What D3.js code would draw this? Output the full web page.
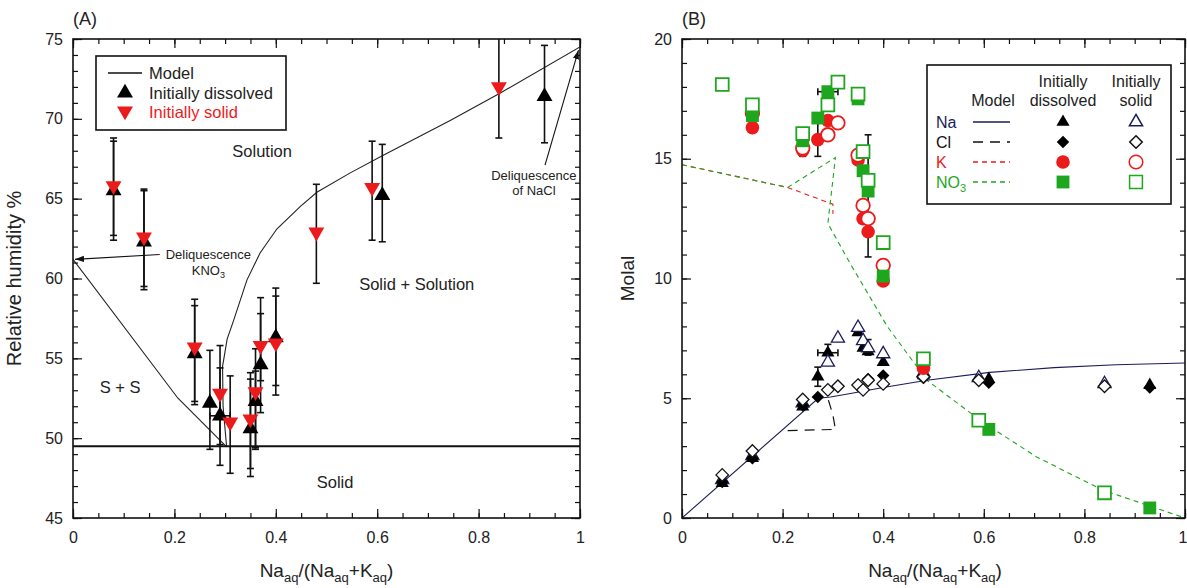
<html>
<head>
<script src="https://d3js.org/d3.v7.min.js"></script>
<style>
  body { margin: 0; background: #fff; }
  svg { font-family: "Liberation Sans", Arial, sans-serif; }
  .tick line { stroke: #111; stroke-width: 1.2; }
  .tick text { font-size: 16px; fill: #222; }
</style>
</head>
<body>
<svg id="chart" width="1187" height="588"></svg>
<script>
// ---- panel A: deliquescence RH vs Na fraction ----
const rhModelLeft = [[0, 61.2], [0.207, 52.5], [0.303, 49.45]];
const rhModelRight = [[0.303, 49.45], [0.296, 52], [0.295, 54.5], [0.304, 56.2], [0.316, 57.3],
  [0.343, 59.9], [0.369, 61.6], [0.402, 63.1], [0.448, 64.5], [0.481, 65.4], [0.546, 66.6],
  [0.611, 67.7], [0.744, 69.9], [0.842, 71.6], [1, 74.5]];
const rhSolidLimit = 49.5;

const rhDissolved = [
  { x: 0.08, y: 65.5, lo: 62.4, hi: 68.8 },
  { x: 0.14, y: 62.3, lo: 59.3, hi: 65.6 },
  { x: 0.24, y: 55.3, lo: 52.3, hi: 58.7 },
  { x: 0.27, y: 52.2, lo: 49.3, hi: 55.5 },
  { x: 0.29, y: 51.4, lo: 48.3, hi: 54.4, xlo: 0.27, xhi: 0.31 },
  { x: 0.35, y: 50.6, lo: 47.6, hi: 53.7 },
  { x: 0.36, y: 52.3, lo: 49.3, hi: 54.2 },
  { x: 0.37, y: 54.6, lo: 51.6, hi: 57.8 },
  { x: 0.40, y: 56.3, lo: 53.3, hi: 59.4 },
  { x: 0.61, y: 65.2, lo: 62.3, hi: 68.4 },
  { x: 0.93, y: 71.4, lo: 68.5, hi: 74.6 }
];
const rhSolid = [
  { x: 0.08, y: 65.8, lo: 62.7, hi: 68.6 },
  { x: 0.14, y: 62.6, lo: 59.5, hi: 65.5 },
  { x: 0.24, y: 55.7, lo: 52.1, hi: 58.3 },
  { x: 0.29, y: 52.8, lo: 49.6, hi: 55.8 },
  { x: 0.31, y: 51.0, lo: 47.8, hi: 53.9 },
  { x: 0.35, y: 51.2, lo: 48.1, hi: 54.1 },
  { x: 0.36, y: 52.9, lo: 49.4, hi: 55.6 },
  { x: 0.37, y: 55.8, lo: 53.6, hi: 58.8 },
  { x: 0.40, y: 55.95, lo: 52.7, hi: 58.9 },
  { x: 0.48, y: 62.9, lo: 59.7, hi: 65.9 },
  { x: 0.59, y: 65.7, lo: 62.4, hi: 68.6 },
  { x: 0.84, y: 72.0, lo: 68.8, hi: 76 }
];

// ---- panel B: molality vs Na fraction ----
const naModel = [[0, 0], [0.271, 5.0], [0.295, 5.05], [0.335, 5.2], [0.40, 5.45], [0.487, 5.75],
  [0.612, 6.08], [0.74, 6.28], [0.863, 6.4], [1, 6.47]];
const clModel = [[0.21, 3.65], [0.305, 3.7], [0.30, 4.3], [0.29, 5.0]];
const kModel = [[0, 14.75], [0.21, 13.8], [0.30, 13.1], [0.30, 12.7]];
const no3Model = [[0, 14.75], [0.21, 13.8], [0.305, 15.05], [0.29, 12.3], [0.335, 10.6],
  [0.408, 8.0], [0.487, 5.75], [0.598, 4.0], [0.705, 2.55], [0.836, 1.17], [0.93, 0.5], [1, 0]];

const naDissolved = [
  { x: 0.08, y: 1.45 }, { x: 0.14, y: 2.5 }, { x: 0.24, y: 4.65 },
  { x: 0.27, y: 5.9, lo: 5.5, hi: 6.3 },
  { x: 0.29, y: 6.9, lo: 6.55, hi: 7.25, xlo: 0.27, xhi: 0.31 },
  { x: 0.35, y: 7.75 }, { x: 0.36, y: 7.1 }, { x: 0.37, y: 6.95, lo: 6.8, hi: 7.45 },
  { x: 0.40, y: 6.5 }, { x: 0.48, y: 5.95 }, { x: 0.61, y: 5.8 }, { x: 0.93, y: 5.55 }
];
const naSolid = [
  { x: 0.08, y: 1.6 }, { x: 0.14, y: 2.6 }, { x: 0.24, y: 4.8 }, { x: 0.29, y: 6.5 },
  { x: 0.31, y: 7.5 }, { x: 0.35, y: 7.95 }, { x: 0.36, y: 7.4 }, { x: 0.37, y: 7.1 },
  { x: 0.40, y: 6.85 }, { x: 0.48, y: 6.05 }, { x: 0.59, y: 5.85 }, { x: 0.84, y: 5.6 }
];
const clDissolved = [
  { x: 0.08, y: 1.5 }, { x: 0.14, y: 2.5 }, { x: 0.24, y: 4.7 }, { x: 0.27, y: 5.05 },
  { x: 0.37, y: 5.8 }, { x: 0.40, y: 5.95 }, { x: 0.48, y: 5.85 }, { x: 0.61, y: 5.65 },
  { x: 0.93, y: 5.45 }
];
const clSolid = [
  { x: 0.08, y: 1.8 }, { x: 0.14, y: 2.8 }, { x: 0.24, y: 4.95 }, { x: 0.29, y: 5.35 },
  { x: 0.31, y: 5.5 }, { x: 0.35, y: 5.55 }, { x: 0.36, y: 5.35 }, { x: 0.37, y: 5.75 },
  { x: 0.40, y: 5.6 }, { x: 0.48, y: 5.9 }, { x: 0.59, y: 5.75 }, { x: 0.84, y: 5.5 }
];
const kDissolved = [
  { x: 0.14, y: 16.3 }, { x: 0.24, y: 15.35, lo: 15.1, hi: 15.5 },
  { x: 0.27, y: 15.8, lo: 15.1, hi: 16.9 }, { x: 0.29, y: 16.6 }, { x: 0.35, y: 14.95 },
  { x: 0.36, y: 12.5 }, { x: 0.37, y: 11.95, lo: 10.9, hi: 16.0 }, { x: 0.40, y: 9.9 },
  { x: 0.48, y: 6.25 }
];
const kSolid = [
  { x: 0.14, y: 16.9 }, { x: 0.24, y: 15.45 }, { x: 0.29, y: 16.0 }, { x: 0.31, y: 16.5 },
  { x: 0.35, y: 15.15 }, { x: 0.36, y: 13.05 }, { x: 0.37, y: 12.5 }, { x: 0.40, y: 10.55 }
];
const no3Dissolved = [
  { x: 0.14, y: 16.8 }, { x: 0.24, y: 15.75 }, { x: 0.27, y: 16.7 },
  { x: 0.29, y: 17.8, xlo: 0.27, xhi: 0.31 }, { x: 0.35, y: 17.5 }, { x: 0.36, y: 14.5 },
  { x: 0.37, y: 13.65 }, { x: 0.40, y: 10.1 }, { x: 0.61, y: 3.7 }, { x: 0.93, y: 0.42 }
];
const no3Solid = [
  { x: 0.08, y: 18.1 }, { x: 0.14, y: 17.25 }, { x: 0.24, y: 16.05 }, { x: 0.29, y: 17.25 },
  { x: 0.31, y: 18.2 }, { x: 0.35, y: 17.7 }, { x: 0.36, y: 15.3 }, { x: 0.37, y: 14.1 },
  { x: 0.40, y: 11.5 }, { x: 0.48, y: 6.65 }, { x: 0.59, y: 4.08 }, { x: 0.84, y: 1.05 }
];

const xMajor = [0, 0.2, 0.4, 0.6, 0.8, 1];
const xMinor = d3.range(0, 1.001, 0.05);

const NAVY = "#1c1c5a", RED = "#ec1b1b", GREEN = "#1fa61f";

const svg = d3.select("#chart");
const defs = svg.append("defs");
defs.append("marker").attr("id", "arrow")
  .attr("viewBox", "0 0 10 10").attr("refX", 10).attr("refY", 5)
  .attr("markerWidth", 9).attr("markerHeight", 9).attr("orient", "auto-start-reverse")
  .attr("markerUnits", "userSpaceOnUse")
  .append("path").attr("d", "M0,1.5 L10,5 L0,8.5 Z").attr("fill", "#111");

function drawFrame(g, x, y, w, h, yMajor, yMinor) {
  const fmt = d3.format("~g");
  g.append("g").attr("transform", `translate(0,${h})`)
    .call(d3.axisBottom(x).tickValues(xMinor).tickSize(-5).tickFormat(""));
  g.append("g").attr("class", "xlab").attr("transform", `translate(0,${h})`)
    .call(d3.axisBottom(x).tickValues(xMajor).tickSize(-9).tickPadding(14).tickFormat(fmt));
  g.append("g").call(d3.axisTop(x).tickValues(xMinor).tickSize(-5).tickFormat(""));
  g.append("g").call(d3.axisTop(x).tickValues(xMajor).tickSize(-9).tickFormat(""));
  g.append("g").call(d3.axisLeft(y).tickValues(yMinor).tickSize(-5).tickFormat(""));
  g.append("g").call(d3.axisLeft(y).tickValues(yMajor).tickSize(-9).tickPadding(10).tickFormat(fmt));
  g.append("g").attr("transform", `translate(${w},0)`)
    .call(d3.axisRight(y).tickValues(yMinor).tickSize(-5).tickFormat(""));
  g.append("g").attr("transform", `translate(${w},0)`)
    .call(d3.axisRight(y).tickValues(yMajor).tickSize(-9).tickFormat(""));
  g.selectAll(".domain").remove();
  g.append("rect").attr("width", w).attr("height", h)
    .attr("fill", "none").attr("stroke", "#111").attr("stroke-width", 1.6);
}

function xTitle(g, cx, cy) {
  const t = g.append("text").attr("x", cx).attr("y", cy).attr("text-anchor", "middle")
    .attr("font-size", 19).attr("fill", "#222");
  t.append("tspan").text("Na");
  t.append("tspan").attr("font-size", 13).attr("dy", 5).text("aq");
  t.append("tspan").attr("dy", -5).text("/(Na");
  t.append("tspan").attr("font-size", 13).attr("dy", 5).text("aq");
  t.append("tspan").attr("dy", -5).text("+K");
  t.append("tspan").attr("font-size", 13).attr("dy", 5).text("aq");
  t.append("tspan").attr("dy", -5).text(")");
}

function errorBars(g, data, x, y) {
  const eb = g.append("g").attr("stroke", "#111").attr("stroke-width", 1.6);
  data.filter(d => d.lo !== undefined).forEach(d => {
    eb.append("line").attr("x1", x(d.x)).attr("x2", x(d.x)).attr("y1", y(d.lo)).attr("y2", y(d.hi));
    [d.lo, d.hi].forEach(v => eb.append("line")
      .attr("x1", x(d.x) - 3.5).attr("x2", x(d.x) + 3.5).attr("y1", y(v)).attr("y2", y(v)));
  });
  data.filter(d => d.xlo !== undefined).forEach(d => {
    eb.append("line").attr("x1", x(d.xlo)).attr("x2", x(d.xhi)).attr("y1", y(d.y)).attr("y2", y(d.y));
    [d.xlo, d.xhi].forEach(v => eb.append("line")
      .attr("x1", x(v)).attr("x2", x(v)).attr("y1", y(d.y) - 3.5).attr("y2", y(d.y) + 3.5));
  });
}

// ================= Panel A =================
const A = { left: 73, top: 39, w: 507, h: 479 };
const gA = svg.append("g").attr("transform", `translate(${A.left},${A.top})`);
const xA = d3.scaleLinear().domain([0, 1]).range([0, A.w]);
const yA = d3.scaleLinear().domain([45, 75]).range([A.h, 0]);

defs.append("clipPath").attr("id", "clipA").append("rect").attr("width", A.w).attr("height", A.h);
const plotA = gA.append("g").attr("clip-path", "url(#clipA)");

const lineA = d3.line().x(d => xA(d[0])).y(d => yA(d[1]));
plotA.append("path").attr("d", lineA(rhModelLeft)).attr("fill", "none").attr("stroke", "#222").attr("stroke-width", 1.1);
plotA.append("path").attr("d", lineA(rhModelRight)).attr("fill", "none").attr("stroke", "#222").attr("stroke-width", 1.1);
plotA.append("line").attr("x1", 0).attr("x2", A.w).attr("y1", yA(rhSolidLimit)).attr("y2", yA(rhSolidLimit))
  .attr("stroke", "#111").attr("stroke-width", 2);

errorBars(plotA, rhDissolved, xA, yA);
errorBars(plotA, rhSolid, xA, yA);

const triUp = d3.symbol(d3.symbolTriangle, 110);
plotA.selectAll(".dis").data(rhDissolved).enter().append("path")
  .attr("d", triUp).attr("fill", "#000")
  .attr("transform", d => `translate(${xA(d.x)},${yA(d.y)})`);
plotA.selectAll(".sol").data(rhSolid).enter().append("path")
  .attr("d", triUp).attr("fill", RED)
  .attr("transform", d => `translate(${xA(d.x)},${yA(d.y)}) rotate(180)`);

drawFrame(gA, xA, yA, A.w, A.h, d3.range(45, 76, 5), d3.range(45, 76, 1));

// annotations A
const annA = gA.append("g").attr("fill", "#222");
annA.append("text").attr("x", xA(0.373)).attr("y", yA(67.6)).attr("text-anchor", "middle").attr("font-size", 16.5).text("Solution");
annA.append("text").attr("x", xA(0.678)).attr("y", yA(59.3)).attr("text-anchor", "middle").attr("font-size", 16.5).text("Solid + Solution");
annA.append("text").attr("x", xA(0.093)).attr("y", yA(52.8)).attr("text-anchor", "middle").attr("font-size", 16.5).text("S + S");
annA.append("text").attr("x", xA(0.517)).attr("y", yA(46.9)).attr("text-anchor", "middle").attr("font-size", 16.5).text("Solid");

annA.append("text").attr("x", xA(0.267)).attr("y", yA(61.2)).attr("text-anchor", "middle").attr("font-size", 13).text("Deliquescence");
const kno3 = annA.append("text").attr("x", xA(0.267)).attr("y", yA(60.25)).attr("text-anchor", "middle").attr("font-size", 13);
kno3.append("tspan").text("KNO");
kno3.append("tspan").attr("font-size", 9).attr("dy", 3).text("3");
annA.append("line").attr("x1", xA(0.171)).attr("y1", yA(61.5)).attr("x2", xA(0.004)).attr("y2", yA(61.2))
  .attr("stroke", "#111").attr("stroke-width", 1.1).attr("marker-end", "url(#arrow)");

annA.append("text").attr("x", xA(0.909)).attr("y", yA(66.2)).attr("text-anchor", "middle").attr("font-size", 13).text("Deliquescence");
annA.append("text").attr("x", xA(0.909)).attr("y", yA(65.2)).attr("text-anchor", "middle").attr("font-size", 13).text("of NaCl");
annA.append("line").attr("x1", xA(0.931)).attr("y1", yA(67.1)).attr("x2", xA(0.997)).attr("y2", yA(74.3))
  .attr("stroke", "#111").attr("stroke-width", 1.1).attr("marker-end", "url(#arrow)");

// legend A
const legA = gA.append("g").attr("transform", "translate(23,17)");
legA.append("rect").attr("width", 190).attr("height", 74).attr("fill", "#fff").attr("stroke", "#111").attr("stroke-width", 1.6);
legA.append("line").attr("x1", 12).attr("x2", 46).attr("y1", 17).attr("y2", 17).attr("stroke", "#111").attr("stroke-width", 1.3);
legA.append("path").attr("d", triUp).attr("transform", "translate(29,37)").attr("fill", "#000");
legA.append("path").attr("d", triUp).attr("transform", "translate(29,55) rotate(180)").attr("fill", RED);
legA.append("text").attr("x", 53).attr("y", 23).attr("font-size", 16.5).attr("fill", "#222").text("Model");
legA.append("text").attr("x", 53).attr("y", 43).attr("font-size", 16.5).attr("fill", "#222").text("Initially dissolved");
legA.append("text").attr("x", 53).attr("y", 62).attr("font-size", 16.5).attr("fill", RED).text("Initially solid");

gA.append("text").attr("x", 0).attr("y", -14).attr("font-size", 18).attr("fill", "#222").text("(A)");
gA.append("text").attr("transform", `translate(-52,${A.h / 2}) rotate(-90)`)
  .attr("text-anchor", "middle").attr("font-size", 20).attr("fill", "#222").text("Relative humidity %");
xTitle(gA, A.w / 2, A.h + 59);

// ================= Panel B =================
const B = { left: 682, top: 39, w: 503, h: 479 };
const gB = svg.append("g").attr("transform", `translate(${B.left},${B.top})`);
const xB = d3.scaleLinear().domain([0, 1]).range([0, B.w]);
const yB = d3.scaleLinear().domain([0, 20]).range([B.h, 0]);

defs.append("clipPath").attr("id", "clipB").append("rect").attr("width", B.w).attr("height", B.h);
const plotB = gB.append("g").attr("clip-path", "url(#clipB)");
const lineB = d3.line().x(d => xB(d[0])).y(d => yB(d[1]));

plotB.append("path").attr("d", lineB(kModel)).attr("fill", "none").attr("stroke", RED).attr("stroke-width", 1.1).attr("stroke-dasharray", "5,4");
plotB.append("path").attr("d", lineB(no3Model)).attr("fill", "none").attr("stroke", GREEN).attr("stroke-width", 1.1).attr("stroke-dasharray", "5,4");
plotB.append("path").attr("d", lineB(naModel)).attr("fill", "none").attr("stroke", NAVY).attr("stroke-width", 1.1);
plotB.append("path").attr("d", lineB(clModel)).attr("fill", "none").attr("stroke", "#111").attr("stroke-width", 1.2).attr("stroke-dasharray", "10,7");

[naDissolved, clDissolved, kDissolved, no3Dissolved].forEach(s => errorBars(plotB, s, xB, yB));

const symTri = d3.symbol(d3.symbolTriangle, 75);
const symDia = d3.symbol(d3.symbolDiamond2, 100);
const symCir = d3.symbol(d3.symbolCircle, 145);
const symSq = d3.symbol(d3.symbolSquare, 165);

function markers(data, sym, fill, stroke, sw) {
  plotB.append("g").selectAll("path").data(data).enter().append("path")
    .attr("d", sym).attr("fill", fill).attr("stroke", stroke).attr("stroke-width", sw)
    .attr("transform", d => `translate(${xB(d.x)},${yB(d.y)})`);
}
markers(naDissolved, symTri, "#000", "none", 0);
markers(naSolid, symTri, "#fff", NAVY, 1.3);
markers(clDissolved, symDia, "#000", "none", 0);
markers(clSolid, symDia, "#fff", "#111", 1.3);
markers(kDissolved, symCir, RED, "none", 0);
markers(kSolid, symCir, "#fff", RED, 1.8);
markers(no3Dissolved, symSq, GREEN, "none", 0);
markers(no3Solid, symSq, "#fff", GREEN, 1.8);

drawFrame(gB, xB, yB, B.w, B.h, d3.range(0, 21, 5), d3.range(0, 21, 1));
// keep the last x label inside the picture edge
gB.selectAll(".xlab .tick text").filter(d => d === 1).attr("text-anchor", "end").attr("dx", 2);

gB.append("text").attr("x", 0).attr("y", -14).attr("font-size", 18).attr("fill", "#222").text("(B)");
gB.append("text").attr("transform", `translate(-48,${B.h / 2}) rotate(-90)`)
  .attr("text-anchor", "middle").attr("font-size", 19).attr("fill", "#222").text("Molal");
xTitle(gB, 253, B.h + 59);

// legend B
const legB = gB.append("g").attr("transform", "translate(245,26)");
legB.append("rect").attr("width", 244).attr("height", 139).attr("fill", "#fff").attr("stroke", "#111").attr("stroke-width", 1.6);
const hdr = [["Model", "", 66], ["Initially", "dissolved", 136], ["Initially", "solid", 209]];
hdr.forEach(h => {
  if (h[1]) {
    legB.append("text").attr("x", h[2]).attr("y", 22).attr("text-anchor", "middle").attr("font-size", 16).attr("fill", "#222").text(h[0]);
    legB.append("text").attr("x", h[2]).attr("y", 41).attr("text-anchor", "middle").attr("font-size", 16).attr("fill", "#222").text(h[1]);
  } else {
    legB.append("text").attr("x", h[2]).attr("y", 41).attr("text-anchor", "middle").attr("font-size", 16).attr("fill", "#222").text(h[0]);
  }
});
const legRows = [
  { label: "Na", color: NAVY, dash: null, symF: symTri, fill: "#000", stroke: NAVY },
  { label: "Cl", color: "#111", dash: "10,7", symF: symDia, fill: "#000", stroke: "#111" },
  { label: "K", color: RED, dash: "5,4", symF: symCir, fill: RED, stroke: RED },
  { label: "NO", color: GREEN, dash: "5,4", symF: symSq, fill: GREEN, stroke: GREEN }
];
legRows.forEach((r, i) => {
  const cy = 57 + i * 20;
  const t = legB.append("text").attr("x", 9).attr("y", cy + 6).attr("font-size", 16).attr("fill", r.color).text(r.label);
  if (r.label === "NO") t.append("tspan").attr("font-size", 11).attr("dy", 4).text("3");
  legB.append("line").attr("x1", 46).attr("x2", 83).attr("y1", cy).attr("y2", cy)
    .attr("stroke", r.color).attr("stroke-width", 1.3).attr("stroke-dasharray", r.dash);
  legB.append("path").attr("d", r.symF).attr("transform", `translate(136,${cy})`).attr("fill", r.fill);
  legB.append("path").attr("d", r.symF).attr("transform", `translate(209,${cy})`)
    .attr("fill", "#fff").attr("stroke", r.stroke).attr("stroke-width", 1.5);
});
</script>
</body>
</html>
